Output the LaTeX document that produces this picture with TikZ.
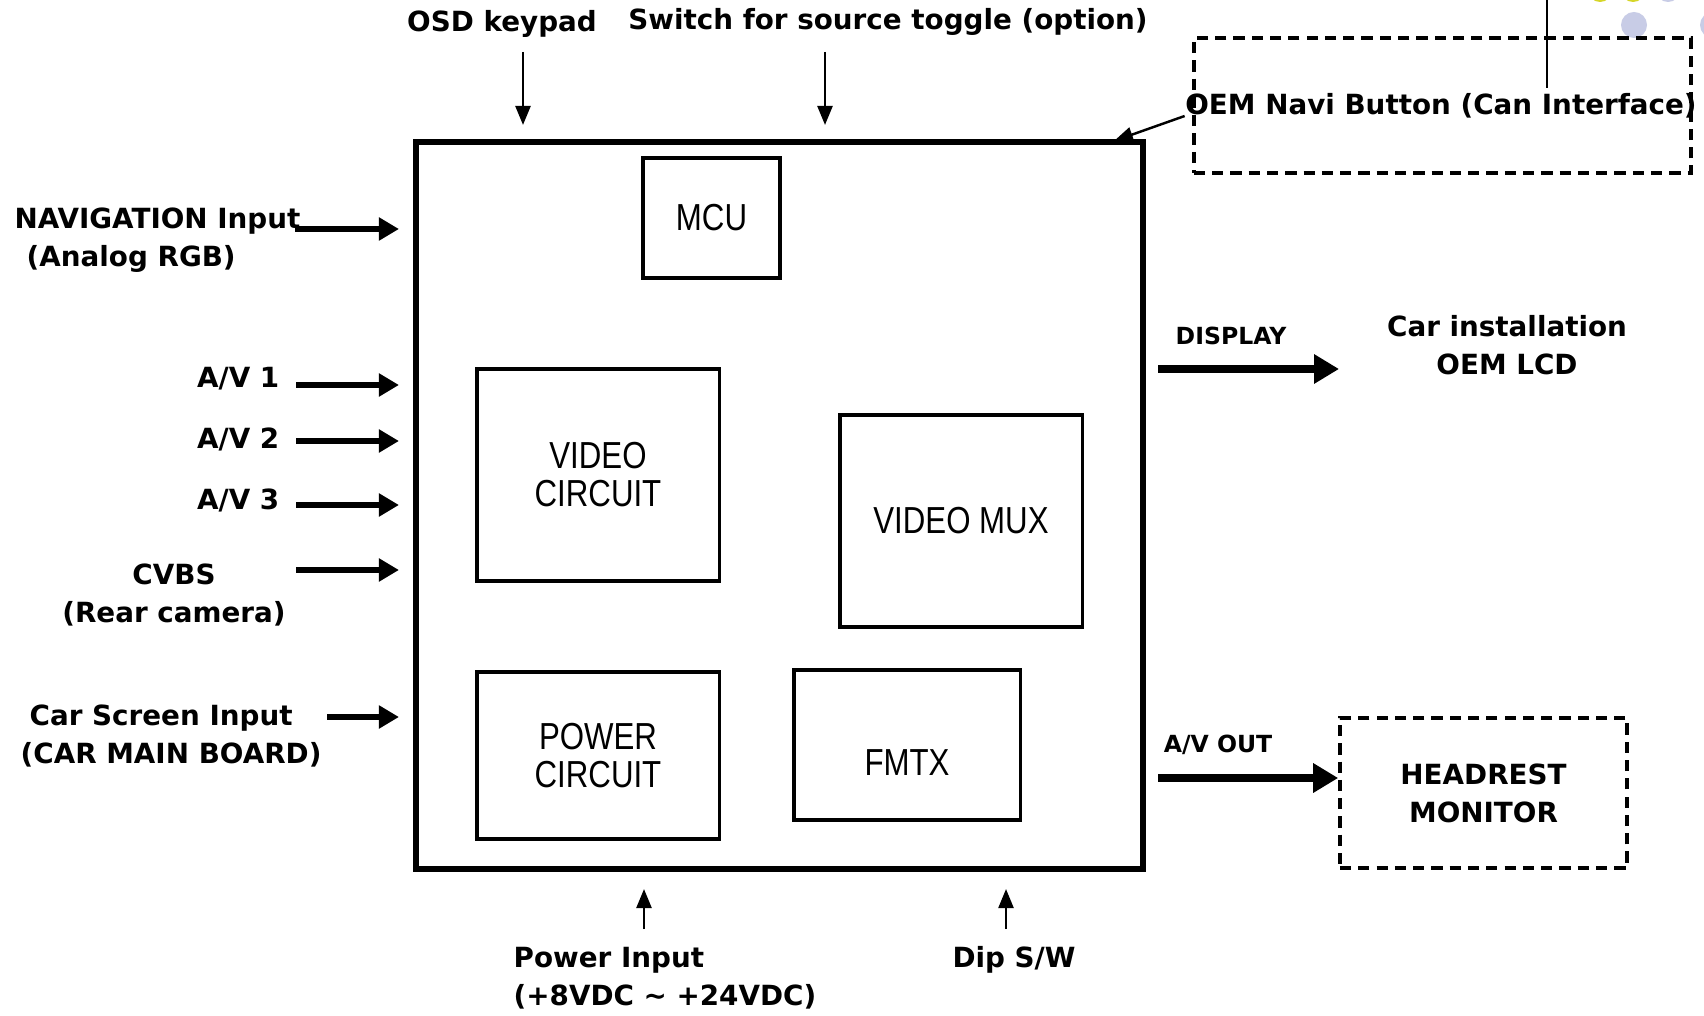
\documentclass[tikz,border=0pt]{standalone}
\usepackage{fontspec}
\setmainfont{DejaVu Sans}
\newfontfamily\blockfont{Liberation Sans}[FakeStretch=0.83]
\usetikzlibrary{arrows.meta,positioning,calc}
\definecolor{dotyellow}{RGB}{214,214,40}
\definecolor{dotlilac}{RGB}{200,204,230}

\begin{document}
\begin{tikzpicture}[x=0.01cm, y=-0.01cm,
  blk/.style={draw, line width=0.9pt, inner sep=0pt, font=\blockfont\fontsize{10.7}{10.8}\selectfont, align=center},
  blktext/.style={font=\blockfont\fontsize{10.7}{10.8}\selectfont, inner sep=0pt},
  lbl/.style={font=\bfseries\fontsize{7.9}{10.8}\selectfont, inner sep=0pt},
  tag/.style={font=\bfseries\fontsize{6.7}{8}\selectfont, inner sep=0pt},
  dashbox/.style={draw, line width=1pt, dash pattern=on 3.2pt off 2pt, inner sep=0pt},
  fat/.style={line width=1.8pt, -{Triangle[length=0.2cm,width=0.22cm]}},
  wide/.style={line width=2.4pt, -{Triangle[length=0.25cm,width=0.28cm]}},
  slimarr/.style={line width=0.7pt, -{Triangle[length=0.19cm,width=0.15cm]}}]
\useasboundingbox (0,0) rectangle (1704,1016);
\clip (0,0) rectangle (1704,1016);
\fill[white] (0,0) rectangle (1704,1016);
% slide decoration at the top right
\fill[dotyellow] (1600,-10) circle (0.12cm);
\fill[dotyellow] (1633,-10) circle (0.12cm);
\fill[dotlilac] (1668,-10) circle (0.12cm);
\fill[dotlilac] (1634,25) circle (0.13cm);
\fill[dotlilac] (1713,25) circle (0.13cm);
\draw[line width=0.8pt] (1547,0) -- (1547,88);
% unit and blocks
\node[draw, line width=1.6pt, minimum width=7.27cm, minimum height=7.27cm, inner sep=0pt] (unit) at (779.5,505.5) {};
\node[blk, minimum width=1.37cm, minimum height=1.2cm] (mcu) at (711.5,218) {MCU};
\node[blk, minimum width=2.42cm, minimum height=2.12cm] (vidc) at (598,475) {VIDEO\\CIRCUIT};
\node[blk, minimum width=2.42cm, minimum height=2.12cm] (vmux) at (961,521) {VIDEO MUX};
\node[blk, minimum width=2.42cm, minimum height=1.67cm] (pwrc) at (598,755.5) {POWER\\CIRCUIT};
\node[blk, minimum width=2.26cm, minimum height=1.5cm] (fmtx) at (907,745) {};
\node[blktext] at ([yshift=-0.18cm]fmtx.center) {FMTX};
% top
\node[lbl] (osd) at (502,24) {OSD keypad};
\node[lbl] (sw) at (888,22) {Switch for source toggle (option)};
\coordinate (osd foot) at (523,52);
\coordinate (sw foot) at (825,52);
\draw[slimarr, shorten >=0.14cm] (osd foot) -- (osd foot |- unit.north);
\draw[slimarr, shorten >=0.14cm] (sw foot) -- (sw foot |- unit.north);
\node[dashbox, minimum width=4.97cm, minimum height=1.35cm] (oembox) at (1442.5,105.5) {};
\node[lbl] (oem) at (1441,106) {OEM Navi Button (Can Interface)};
\coordinate (oem tip) at (1114,141);
\draw[slimarr] ([yshift=-0.1cm]oem.west) -- (oem tip);
% inputs on the left
\node[lbl, align=left, anchor=west] (nav) at (14,240.5) {NAVIGATION Input\\\hspace{0.12cm}(Analog RGB)};
\node[lbl, anchor=east] (av1) at (280,379) {A/V 1};
\node[lbl, anchor=east] (av2) at (280,439) {A/V 2};
\node[lbl, anchor=east] (av3) at (280,500) {A/V 3};
\node[lbl, align=center] (cvbs) at (174,595.5) {CVBS\\(Rear camera)};
\node[lbl, align=left, anchor=west] (cscr) at (20,736.5) {\hspace{0.09cm}Car Screen Input\\(CAR MAIN BOARD)};
\foreach \n/\ys/\xs in {nav/229/295, av1/385/296, av2/441/296, av3/505/296, cvbs/570/296, cscr/717/327}
  { \coordinate (\n in) at (\xs,\ys); \draw[fat, shorten >=0.14cm] (\n in) -- (\n in -| unit.west); }
% outputs on the right
\node[tag] (disp) at (1231,336) {DISPLAY};
\node[lbl, align=center] (lcd) at (1507,345) {Car installation\\OEM LCD};
\coordinate (disp out) at (1158,369);
\coordinate (disp tip) at (1339,369);
\draw[wide] (disp out) -- (disp tip);
\node[tag] (avout) at (1218,745) {A/V OUT};
\node[dashbox, lbl, align=center, minimum width=2.87cm, minimum height=1.5cm] (head) at (1483.5,793) {HEADREST\\MONITOR};
\coordinate (avout out) at (1158,778);
\draw[wide] (avout out) -- (avout out -| head.west);
% bottom
\coordinate (pwr foot) at (644,929);
\coordinate (dip foot) at (1006,929);
\draw[slimarr, shorten >=0.17cm] (pwr foot) -- (pwr foot |- unit.south);
\draw[slimarr, shorten >=0.17cm] (dip foot) -- (dip foot |- unit.south);
\node[lbl, align=left, anchor=west] (pwr) at (513,978) {Power Input\\(+8VDC \textasciitilde{} +24VDC)};
\node[lbl] (dip) at (1014,960) {Dip S/W};
\end{tikzpicture}
\end{document}
